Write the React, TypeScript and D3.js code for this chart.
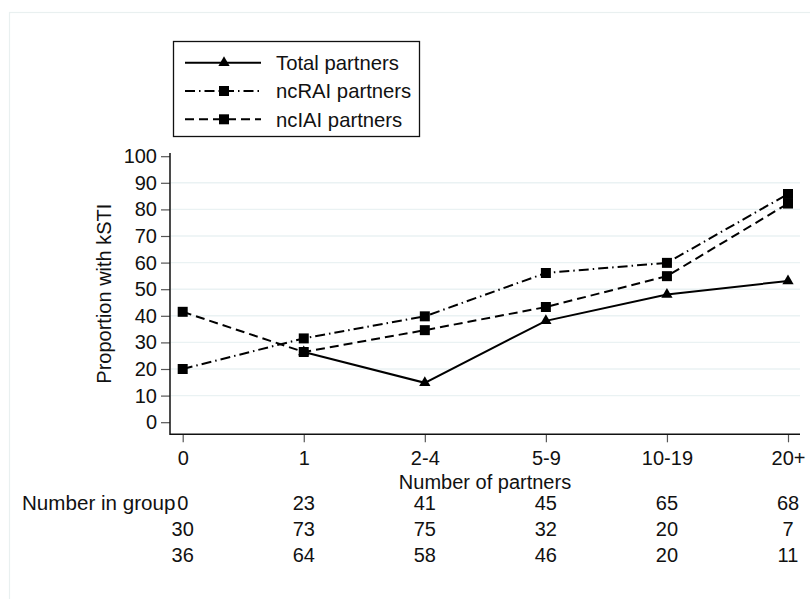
import React from "react";
import { useRef, useEffect } from "react";
import * as d3 from "d3";

// chart values
const categories = ["0", "1", "2-4", "5-9", "10-19", "20+"];
const totalPartners = [null, 26.4, 14.8, 38.1, 48.0, 53.1];
const ncraiPartners = [20.0, 31.5, 39.8, 56.1, 59.9, 85.8];
const nciaiPartners = [41.5, 26.4, 34.6, 43.3, 54.9, 82.2];
const yTicks = [0, 10, 20, 30, 40, 50, 60, 70, 80, 90, 100];
const gridTicks = [10, 20, 30, 40, 50, 60, 70, 80, 90];
const nTotal = [0, 23, 41, 45, 65, 68];
const nRAI = [30, 73, 75, 32, 20, 7];
const nIAI = [36, 64, 58, 46, 20, 11];

const FONT = "'Liberation Sans', Arial, sans-serif";

function App() {
  const svgRef = useRef<SVGSVGElement>(null);

  useEffect(() => {
    const width = 810;
    const height = 599;
    const svg = d3.select(svgRef.current);
    svg.selectAll("*").remove();
    svg.attr("width", width).attr("height", height);

    svg.append("rect").attr("width", width).attr("height", height).attr("fill", "#fff");
    // faint outer frame (graph region)
    svg
      .append("rect")
      .attr("x", 9.5)
      .attr("y", 12.5)
      .attr("width", 900)
      .attr("height", 700)
      .attr("fill", "none")
      .attr("stroke", "#e9f0f0")
      .attr("stroke-width", 1.2);

    const plot = { left: 170, right: 800, top: 153, bottom: 434.3 };

    const x = d3.scalePoint<string>().domain(categories).range([182.7, 788]);
    const y = d3.scaleLinear().domain([0, 100]).range([422.2, 156.2]);

    // gridlines
    svg
      .append("g")
      .selectAll("line")
      .data(gridTicks)
      .join("line")
      .attr("x1", plot.left + 1)
      .attr("x2", plot.right)
      .attr("y1", (d) => y(d))
      .attr("y2", (d) => y(d))
      .attr("stroke", "#eaf2f3")
      .attr("stroke-width", 1.4);

    // axes
    const yAxis = d3.axisLeft(y).tickValues(yTicks).tickSize(9).tickPadding(4).tickSizeOuter(0);
    const gy = svg.append("g").attr("transform", `translate(${plot.left},0)`).call(yAxis);
    gy.select(".domain").remove();
    gy.selectAll(".tick line").attr("stroke", "#555").attr("stroke-width", 1.2);
    gy.selectAll(".tick text")
      .attr("font-family", FONT)
      .attr("font-size", 20)
      .attr("fill", "#111");

    const xAxis = d3.axisBottom(x).tickSize(8).tickPadding(9).tickSizeOuter(0);
    const gx = svg.append("g").attr("transform", `translate(0,${plot.bottom})`).call(xAxis);
    gx.select(".domain").remove();
    gx.selectAll(".tick line").attr("stroke", "#555").attr("stroke-width", 1.2);
    gx.selectAll(".tick text")
      .attr("font-family", FONT)
      .attr("font-size", 20)
      .attr("fill", "#111");

    svg
      .append("path")
      .attr("d", `M${plot.left},${plot.top}V${plot.bottom}H${plot.right}`)
      .attr("fill", "none")
      .attr("stroke", "#111")
      .attr("stroke-width", 1.5);

    // titles
    svg
      .append("text")
      .attr("transform", `translate(111,${(plot.top + plot.bottom) / 2}) rotate(-90)`)
      .attr("text-anchor", "middle")
      .attr("font-family", FONT)
      .attr("font-size", 20)
      .attr("fill", "#111")
      .text("Proportion with kSTI");

    svg
      .append("text")
      .attr("x", (plot.left + plot.right) / 2)
      .attr("y", 488.5)
      .attr("text-anchor", "middle")
      .attr("font-family", FONT)
      .attr("font-size", 20)
      .attr("fill", "#111")
      .text("Number of partners");

    // series
    const series = [
      { name: "Total partners", values: totalPartners, dash: null, marker: d3.symbolTriangle, size: 55 },
      { name: "ncRAI partners", values: ncraiPartners, dash: "10 4 1.5 4", marker: d3.symbolSquare, size: 100 },
      { name: "ncIAI partners", values: nciaiPartners, dash: "9 5", marker: d3.symbolSquare, size: 100 },
    ];

    const line = d3
      .line<number | null>()
      .defined((d) => d != null)
      .x((d, i) => x(categories[i])!)
      .y((d) => y(d as number));

    series.forEach((s) => {
      svg
        .append("path")
        .attr("d", line(s.values))
        .attr("fill", "none")
        .attr("stroke", "#000")
        .attr("stroke-width", 2)
        .attr("stroke-dasharray", s.dash);
    });
    series.forEach((s) => {
      svg
        .append("g")
        .selectAll("path")
        .data(s.values.map((v, i) => ({ v, c: categories[i] })).filter((d) => d.v != null))
        .join("path")
        .attr("transform", (d) => `translate(${x(d.c)},${y(d.v as number)})`)
        .attr("d", d3.symbol(s.marker, s.size)())
        .attr("fill", "#000");
    });

    // legend
    const legend = svg.append("g");
    legend
      .append("rect")
      .attr("x", 173.5)
      .attr("y", 41.5)
      .attr("width", 246)
      .attr("height", 95)
      .attr("fill", "#fff")
      .attr("stroke", "#111")
      .attr("stroke-width", 1.3);
    const rowY = [62.7, 91, 119.3];
    series.forEach((s, i) => {
      legend
        .append("line")
        .attr("x1", 185)
        .attr("x2", 261)
        .attr("y1", rowY[i])
        .attr("y2", rowY[i])
        .attr("stroke", "#000")
        .attr("stroke-width", 2)
        .attr("stroke-dasharray", s.dash);
      legend
        .append("path")
        .attr("transform", `translate(224,${rowY[i]})`)
        .attr("d", d3.symbol(s.marker, s.size)())
        .attr("fill", "#000");
      legend
        .append("text")
        .attr("x", 276)
        .attr("y", rowY[i])
        .attr("dy", "0.36em")
        .attr("font-family", FONT)
        .attr("font-size", 20.3)
        .attr("fill", "#111")
        .text(s.name);
    });

    // number-in-group table under the axis
    svg
      .append("text")
      .attr("x", 22)
      .attr("y", 510)
      .attr("font-family", FONT)
      .attr("font-size", 20.6)
      .attr("fill", "#111")
      .text("Number in group");
    const rows = [nTotal, nRAI, nIAI];
    const rowBase = [510, 536, 562];
    rows.forEach((r, j) => {
      svg
        .append("g")
        .selectAll("text")
        .data(r)
        .join("text")
        .attr("x", (d, i) => x(categories[i])!)
        .attr("y", rowBase[j])
        .attr("text-anchor", "middle")
        .attr("font-family", FONT)
        .attr("font-size", 20)
        .attr("fill", "#111")
        .text((d) => d);
    });
  }, []);

  return (
    <div style={{ position: "absolute", left: 0, top: 0 }}>
      <svg ref={svgRef} style={{ display: "block" }} />
    </div>
  );
}

export default App;
